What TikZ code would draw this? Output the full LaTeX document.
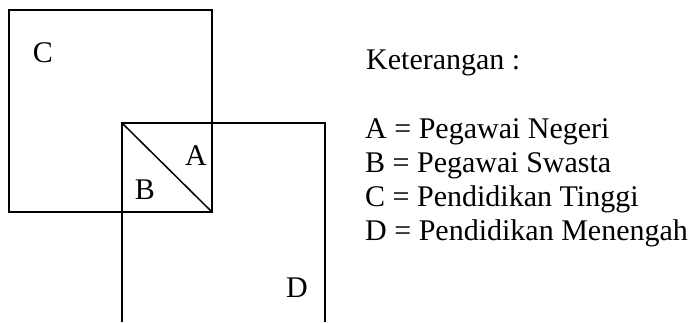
\documentclass[tikz,border=0pt]{standalone}
\usepackage{fontspec}
\setmainfont{Liberation Serif}
\begin{document}
\begin{tikzpicture}[x=1pt,y=-1pt,
  box/.style={line width=1.5pt},
  lbl/.style={font=\fontsize{30}{34}\selectfont, inner sep=0pt, anchor=base},
  leg/.style={font=\fontsize{30}{34}\selectfont, inner sep=0pt, anchor=base west}]
\useasboundingbox (0,0) rectangle (689,322);
% square C
\coordinate (c1) at (9,10);
\coordinate (c2) at (212,212);
\draw[box] (c1) rectangle (c2);
% rectangle D (open at bottom)
\coordinate (d1) at (122,322);
\coordinate (d2) at (122,123);
\coordinate (d3) at (325,123);
\coordinate (d4) at (325,322);
\draw[box] (d1) -- (d2) -- (d3) -- (d4);
% diagonal
\draw[box] (d2) -- (c2);
% labels
\node[lbl] (lC) at (43,62) {C};
\node[lbl] (lA) at (196,165) {A};
\node[lbl] (lB) at (145,199) {B};
\node[lbl] (lD) at (297,297) {D};
% legend
\node[leg] (k) at (366,69) {Keterangan :};
\node[leg] (la) at (365,138) {A = Pegawai Negeri};
\node[leg] (lb) at (365,172) {B = Pegawai Swasta};
\node[leg] (lc) at (365,206) {C = Pendidikan Tinggi};
\node[leg] (ld) at (365,240) {D = Pendidikan Menengah};
\end{tikzpicture}
\end{document}
